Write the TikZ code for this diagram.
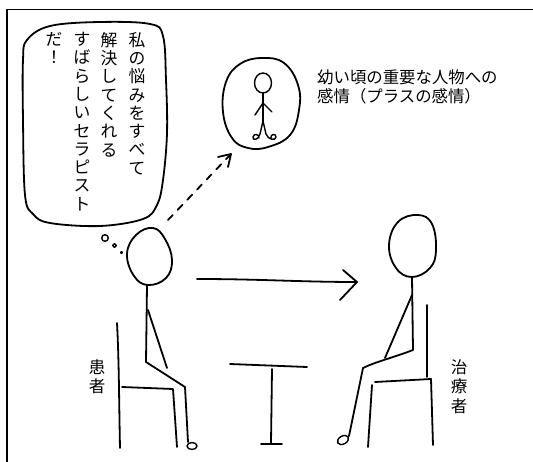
\documentclass[tikz,border=0pt]{standalone}
\usepackage{fontspec}
\newfontfamily\jpfont{Noto Sans CJK JP}
\begin{document}
\begin{tikzpicture}[x=1pt,y=-1pt,line cap=round,line join=round,
  ink/.style={line width=1.8pt},
  fine/.style={line width=1.4pt},
  vcol/.style={anchor=north,inner sep=0pt,align=center,
    font=\jpfont\fontsize{16.8}{18.3}\selectfont},
  vlabel/.style={anchor=north,inner sep=0pt,align=center,
    font=\jpfont\fontsize{16.5}{19.5}\selectfont},
  note/.style={anchor=north west,inner sep=0pt,align=left,
    font=\jpfont\fontsize{16.4}{19}\selectfont}]
\useasboundingbox (0,0) rectangle (533,462);

% frame edges
\draw[line width=1.2pt] (533,9.5) -- (7,9.5) -- (7,462);

% thought bubble
\draw[ink] plot[smooth cycle,tension=0.6] coordinates
  {(27,40) (50,26) (100,22) (150,24) (163,36) (166,80) (167,133)
   (163,180) (157,205) (143,219) (100,226) (50,223) (33,214)
   (25,195) (23,120) (23,60)};
\node[vcol] (t1) at (137,32) {私\\の\\悩\\み\\を\\す\\べ\\て};
\node[vcol] (t2) at (109,32) {解\\決\\し\\て\\く\\れ\\る};
\node[vcol] (t3) at (82,32) {す\\ば\\ら\\し\\い\\セ\\ラ\\ピ\\ス\\ト};
\node[vcol] (t4) at (54,32) {だ\\！};

% bubble dots
\draw[fine] (105,238) circle (3.3);
\draw[fine] (114.5,245.5) circle (1.8);
\draw[fine] (121.5,252.5) circle (1);

% remembered figure
\draw[ink] plot[smooth cycle,tension=0.7] coordinates
  {(262,58) (284,63) (298,85) (299,110) (290,135) (268,147)
   (248,148) (232,138) (223,112) (226,82) (240,64)};
\draw[fine] (263,83) ellipse [x radius=8.5,y radius=10];
\draw[fine] (263,93) -- (263,121);
\draw[fine] (255,115) -- (263,103) -- (272,112);
\draw[fine] (263,121) -- (260,134) .. controls (259,140) and (252,141) .. (253,137)
  .. controls (254,133) and (259,134) .. (259,138);
\draw[fine] (263,121) -- (266,134) .. controls (268,140) and (276,141) .. (276,137)
  .. controls (276,133) and (270,134) .. (271,138);
\node[note] (memo) at (317,70) {幼い頃の重要な人物への\\感情（プラスの感情）};

% dashed arrow towards the figure
\coordinate (dA) at (168,220);
\coordinate (dB) at (230,155);
\draw[ink,dash pattern=on 7pt off 7pt] (dA) -- (dB);
\draw[ink] (218,157) -- (231,154) -- (228,167);

% patient
\draw[ink] plot[smooth cycle,tension=0.7] coordinates
  {(153,228) (165,239) (172,260) (166,278) (148,285) (134,276)
   (127,254) (136,235)};
\draw[ink] (147,285) -- (146,362) -- (185,387) -- (188,442);
\draw[ink] (148,310) -- (167,368);
\draw[fine] (192,446) ellipse [x radius=5,y radius=3.5];
% patient's chair
\draw[ink] (117,323) .. controls (119,360) and (119,400) .. (120,448);
\draw[ink] (122,387) -- (173,389) -- (177,447);
\node[vlabel] (pat) at (97,359) {患\\者};

% arrow from patient to therapist
\coordinate (aA) at (197,279);
\coordinate (aB) at (357,282);
\draw[ink] (aA) .. controls (260,279) and (300,282) .. (aB);
\draw[ink] (343,270) -- (aB) -- (340,300);

% table
\draw[ink] (230,364) -- (307,367);
\draw[ink] (272,369) -- (271,443);
\draw[ink] (261,444) -- (282,444);

% therapist
\draw[ink] plot[smooth cycle,tension=0.7] coordinates
  {(418,215) (432,224) (436,250) (430,268) (412,277) (396,268)
   (389,245) (398,222)};
\draw[ink] (412,277) -- (413,350) .. controls (395,357) and (375,362) .. (363,368) -- (349,436);
\draw[ink] (412,295) -- (385,358);
\draw[fine,rotate around={30:(343,440)}] (343,440) ellipse [x radius=6,y radius=4];
% therapist's chair
\draw[ink] (427,305) -- (427,377);
\draw[ink] (375,382) -- (431,379) -- (433,445);
\draw[ink] (372,385) -- (368,447);
\node[vlabel] (thr) at (459,359) {治\\療\\者};
\end{tikzpicture}
\end{document}
